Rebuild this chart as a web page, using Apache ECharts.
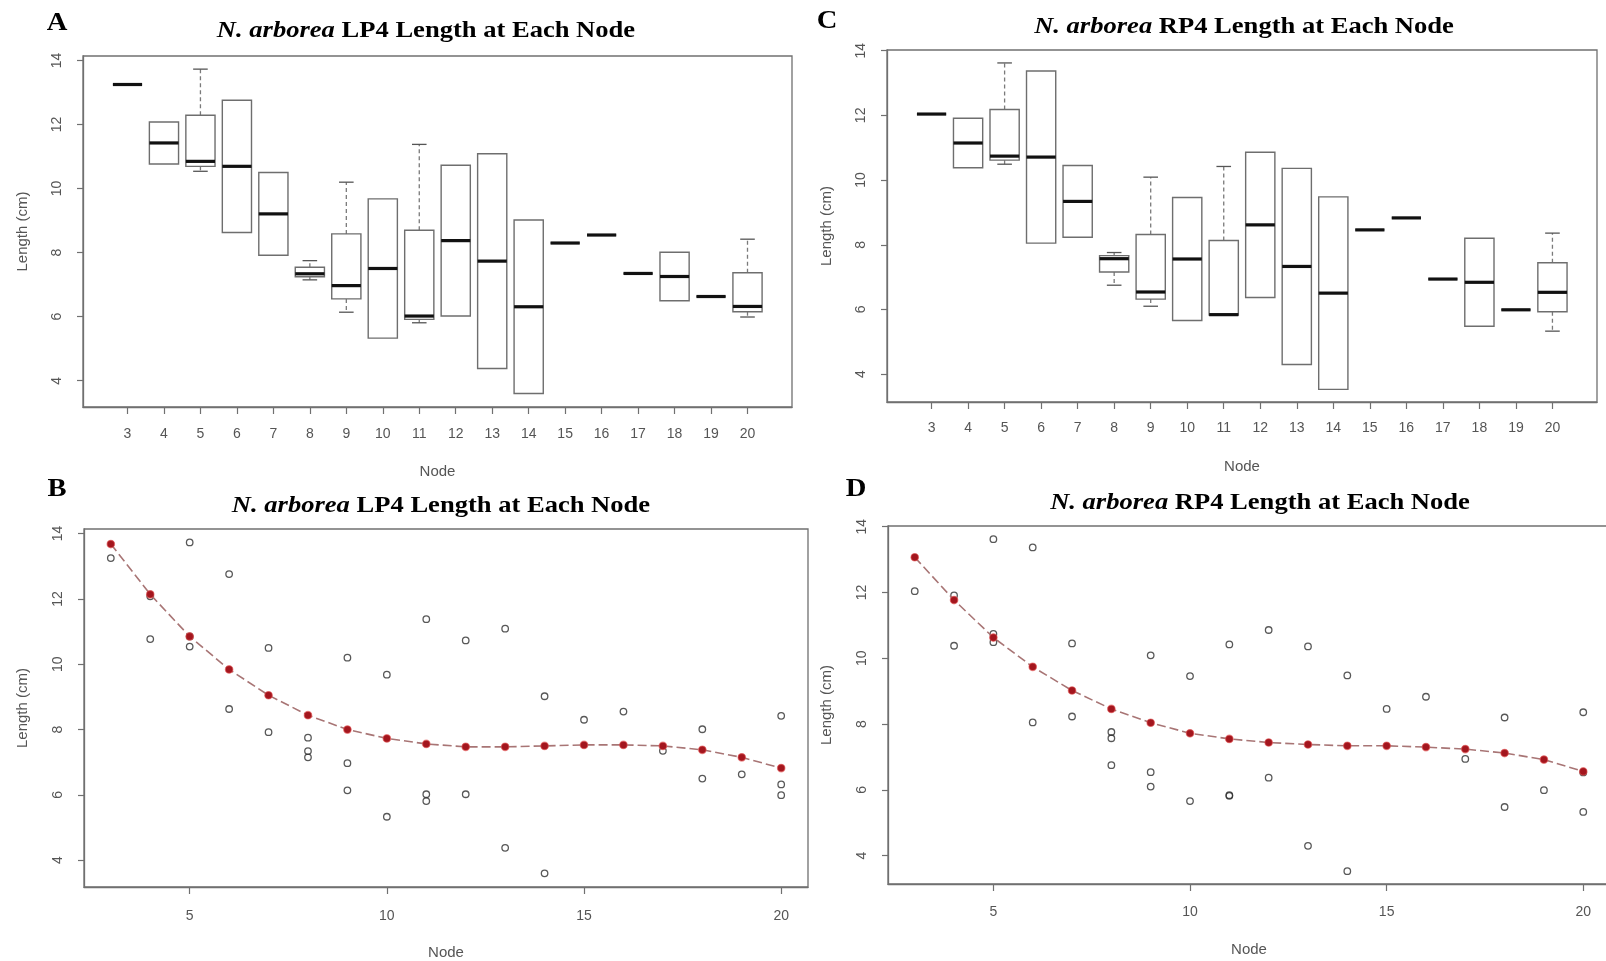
<!DOCTYPE html>
<html>
<head>
<meta charset="utf-8">
<script src="https://cdn.jsdelivr.net/npm/echarts@6/dist/echarts.min.js"></script>
<style>
html,body{margin:0;padding:0;background:#fff;}
#chart{width:1606px;height:961px;}
</style>
</head>
<body>
<div id="chart"></div>
<script>
// ---------------- data ----------------
const nodes = [3, 4, 5, 6, 7, 8, 9, 10, 11, 12, 13, 14, 15, 16, 17, 18, 19, 20];

// LP4 lengths (cm) observed at each node
const lp4Lengths = [
  [13.25], [12.08, 10.77], [13.73, 10.85, 10.54], [12.76, 8.63], [10.5, 7.92],
  [7.75, 7.34, 7.15], [10.2, 6.97, 6.14], [9.68, 5.33], [11.38, 6.02, 5.81],
  [10.73, 6.02], [11.09, 4.38], [9.02, 3.6], [8.3], [8.55], [7.35],
  [8.01, 6.5], [6.63], [8.42, 6.32, 5.99]
];
// RP4 lengths (cm) observed at each node
const rp4Lengths = [
  [12.04], [11.91, 10.38], [13.62, 10.74, 10.49], [13.37, 8.05], [10.45, 8.23],
  [7.76, 7.57, 6.75], [10.09, 6.54, 6.1], [9.46, 5.66], [10.42, 5.84, 5.82],
  [10.86, 6.37], [10.36, 4.3], [9.48, 3.53], [8.46], [8.83], [6.94],
  [8.2, 5.48], [5.99], [8.36, 6.53, 5.33]
];
// fitted curve values at each node
const lp4Fit = [13.68, 12.14, 10.85, 9.84, 9.05, 8.44, 8.0, 7.73, 7.56, 7.47, 7.47, 7.5, 7.53, 7.53, 7.5, 7.38, 7.15, 6.82];
const rp4Fit = [13.07, 11.77, 10.63, 9.74, 9.02, 8.46, 8.04, 7.72, 7.55, 7.44, 7.38, 7.34, 7.34, 7.3, 7.24, 7.12, 6.92, 6.56];

const boxTickValues = nodes;
const scatterTickValues = [5, 10, 15, 20];
const yTickValues = [4, 6, 8, 10, 12, 14];

// ---------------- helpers ----------------
function fivenum(arr) {               // R's fivenum (Tukey hinges)
  const x = arr.slice().sort((a, b) => a - b);
  const n = x.length;
  const n4 = Math.floor((n + 3) / 2) / 2;
  const d = [1, n4, (n + 1) / 2, n + 1 - n4, n];
  return d.map(k => 0.5 * (x[Math.floor(k) - 1] + x[Math.ceil(k) - 1]));
}
function boxData(lengths) {
  return nodes.map((nd, i) => [nd].concat(fivenum(lengths[i])));
}
function pointData(lengths) {
  const out = [];
  nodes.forEach((nd, i) => lengths[i].forEach(v => out.push([nd, v])));
  return out;
}
function fitData(fit) { return nodes.map((nd, i) => [nd, fit[i]]); }

const BOX_WEX = 0.8;
const boxColor = '#6e6e6e';
function renderBox(params, api) {
  const nd = api.value(0);
  const mn = api.value(1), q1 = api.value(2), md = api.value(3), q3 = api.value(4), mx = api.value(5);
  const cx = api.coord([nd, md])[0];
  const hw = api.size([BOX_WEX, 0])[0] / 2;
  const y = v => api.coord([nd, v])[1];
  const ch = [];
  if (mx > q3 + 1e-9) {
    ch.push({type: 'line', shape: {x1: cx, y1: y(q3), x2: cx, y2: y(mx)},
      style: {stroke: '#7a7a7a', lineWidth: 1.3, lineDash: [4, 3]}});
    ch.push({type: 'line', shape: {x1: cx - hw / 2, y1: y(mx), x2: cx + hw / 2, y2: y(mx)},
      style: {stroke: '#555', lineWidth: 1.3}});
  }
  if (mn < q1 - 1e-9) {
    ch.push({type: 'line', shape: {x1: cx, y1: y(q1), x2: cx, y2: y(mn)},
      style: {stroke: '#7a7a7a', lineWidth: 1.3, lineDash: [4, 3]}});
    ch.push({type: 'line', shape: {x1: cx - hw / 2, y1: y(mn), x2: cx + hw / 2, y2: y(mn)},
      style: {stroke: '#555', lineWidth: 1.3}});
  }
  ch.push({type: 'rect', shape: {x: cx - hw, y: y(q3), width: 2 * hw, height: y(q1) - y(q3)},
    style: {stroke: boxColor, lineWidth: 1.4, fill: 'rgba(255,255,255,0)'}});
  ch.push({type: 'line', shape: {x1: cx - hw, y1: y(md), x2: cx + hw, y2: y(md)},
    style: {stroke: '#111', lineWidth: 3.2}});
  return {type: 'group', children: ch};
}

// ---------------- layout ----------------
const sans = 'Liberation Sans, Arial, sans-serif';
const serif = 'Liberation Serif, Times New Roman, serif';
const grids = [
  {left: 83, top: 56, width: 709, height: 351},   // A
  {left: 887, top: 50, width: 710, height: 352},  // C
  {left: 84, top: 529, width: 724, height: 358},  // B
  {left: 888, top: 526, width: 722, height: 358}  // D
].map(g => Object.assign({show: true, borderColor: '#707070', borderWidth: 1.3,
  backgroundColor: 'transparent', containLabel: false, outerBoundsMode: 'none'}, g));

function xAxisOf(gi, min, max, ticks, labelMargin, nameGap) {
  return {
    type: 'value', gridIndex: gi, min: min, max: max,
    name: 'Node', nameLocation: 'middle', nameGap: nameGap,
    nameTextStyle: {color: '#555', fontFamily: sans, fontSize: 15},
    axisLine: {show: true, lineStyle: {color: '#707070', width: 1.3}},
    axisTick: {show: true, length: 7, inside: false, customValues: ticks, lineStyle: {color: '#707070', width: 1.2}},
    axisLabel: {show: true, customValues: ticks, margin: labelMargin, color: '#555', fontFamily: sans, fontSize: 14},
    splitLine: {show: false}
  };
}
function yAxisOf(gi, min, max, nameGap) {
  return {
    type: 'value', gridIndex: gi, min: min, max: max,
    name: 'Length (cm)', nameLocation: 'middle', nameGap: nameGap,
    nameTextStyle: {color: '#555', fontFamily: sans, fontSize: 15},
    axisLine: {show: true, lineStyle: {color: '#707070', width: 1.3}},
    axisTick: {show: true, length: 6, inside: false, customValues: yTickValues, lineStyle: {color: '#707070', width: 1.2}},
    axisLabel: {show: true, customValues: yTickValues, rotate: 90, margin: 19, color: '#555', fontFamily: sans, fontSize: 14},
    splitLine: {show: false}
  };
}

const xAxes = [
  xAxisOf(0, 1.78, 21.22, boxTickValues, 20, 57),
  xAxisOf(1, 1.78, 21.22, boxTickValues, 19, 57),
  xAxisOf(2, 2.32, 20.68, scatterTickValues, 22, 58),
  xAxisOf(3, 2.32, 20.68, scatterTickValues, 21, 58)
];
const yAxes = [
  yAxisOf(0, 3.18, 14.14, 53),
  yAxisOf(1, 3.14, 14.02, 53),
  yAxisOf(2, 3.18, 14.14, 54),
  yAxisOf(3, 3.14, 14.02, 54)
];

function boxSeries(idx, lengths) {
  return {type: 'custom', xAxisIndex: idx, yAxisIndex: idx, renderItem: renderBox,
    encode: {x: 0, y: [1, 2, 3, 4, 5]}, data: boxData(lengths), clip: false, silent: true};
}
function pointSeries(idx, lengths) {
  return {type: 'scatter', xAxisIndex: idx, yAxisIndex: idx, data: pointData(lengths),
    symbol: 'circle', symbolSize: 6.5, z: 2, silent: true,
    itemStyle: {color: 'rgba(255,255,255,0)', borderColor: '#2e2e2e', borderWidth: 1.3}};
}
function fitSeries(idx, fit) {
  return {type: 'line', xAxisIndex: idx, yAxisIndex: idx, data: fitData(fit), z: 3, silent: true,
    symbol: 'circle', symbolSize: 7.5, showSymbol: true,
    lineStyle: {color: '#a87575', width: 1.6, type: [9, 4]},
    itemStyle: {color: '#a3161e', borderColor: 'rgba(225,80,80,0.6)', borderWidth: 1.2}};
}

function titleText(cx, cy, label) {
  return {type: 'text', x: cx, y: cy, scaleX: 1.13, z: 10,
    style: {text: '{i|N. arborea}{b| ' + label + ' Length at Each Node}',
      align: 'center', verticalAlign: 'middle',
      rich: {
        i: {fontFamily: serif, fontStyle: 'italic', fontWeight: 'bold', fontSize: 23.5, fill: '#000'},
        b: {fontFamily: serif, fontWeight: 'bold', fontSize: 23.5, fill: '#000'}
      }}};
}
function letterText(cx, cy, t) {
  return {type: 'text', x: cx, y: cy, scaleX: 1.1, z: 10,
    style: {text: t, align: 'center', verticalAlign: 'middle',
      font: 'bold 26px ' + serif, fill: '#000'}};
}

const option = {
  backgroundColor: '#fff',
  animation: false,
  grid: grids,
  xAxis: xAxes,
  yAxis: yAxes,
  series: [
    boxSeries(0, lp4Lengths),
    boxSeries(1, rp4Lengths),
    pointSeries(2, lp4Lengths),
    fitSeries(2, lp4Fit),
    pointSeries(3, rp4Lengths),
    fitSeries(3, rp4Fit)
  ],
  graphic: [
    letterText(57, 23, 'A'),
    titleText(426, 31, 'LP4'),
    letterText(827, 21, 'C'),
    titleText(1244, 27, 'RP4'),
    letterText(57, 489, 'B'),
    titleText(441, 506, 'LP4'),
    letterText(856, 489, 'D'),
    titleText(1260, 503, 'RP4')
  ]
};

const chart = echarts.init(document.getElementById('chart'), null, {renderer: 'canvas'});
chart.setOption(option);
</script>
</body>
</html>
